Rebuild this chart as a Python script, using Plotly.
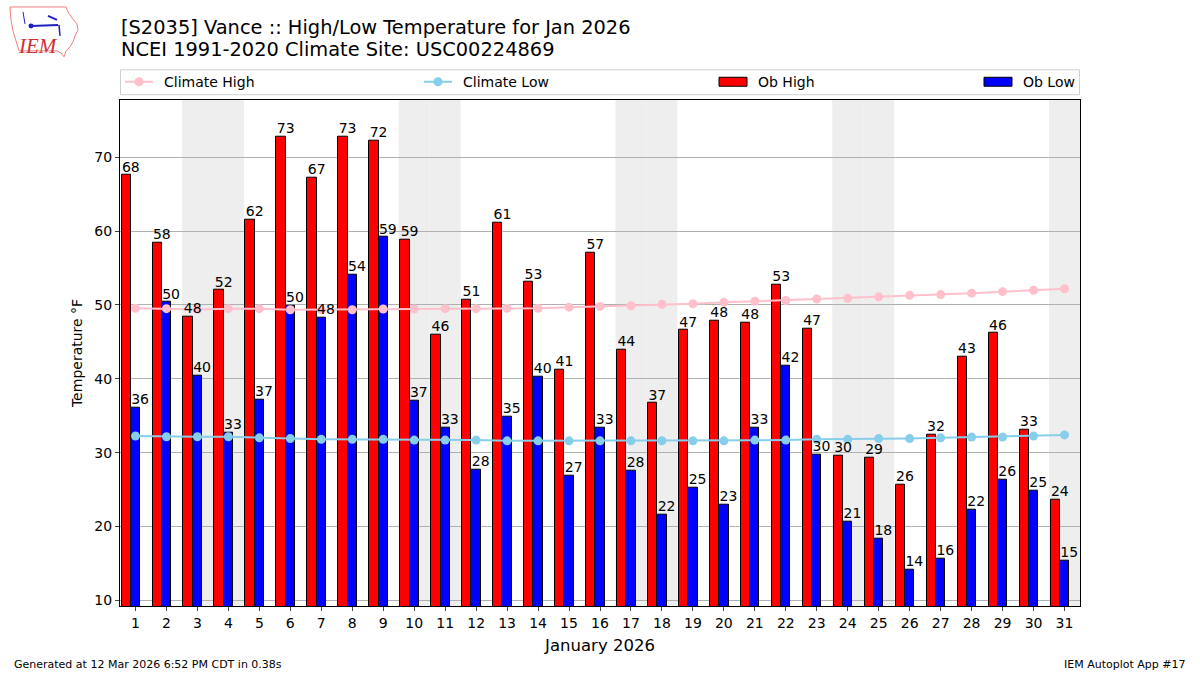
import datetime
import plotly.graph_objects as go

days = list(range(1, 32))
ob_high = [67.6, 58.5, 48.4, 52.0, 61.6, 72.8, 67.3, 72.8, 72.3, 58.8,
           46.0, 50.7, 61.2, 53.1, 41.2, 57.1, 43.9, 36.7, 46.6, 47.9,
           47.6, 52.8, 46.8, 29.6, 29.3, 25.7, 32.4, 43.0, 46.2, 33.1, 23.6]
ob_low = [36.1, 50.4, 40.4, 32.7, 37.2, 49.9, 48.3, 54.1, 59.2, 37.0,
          33.4, 27.7, 34.9, 40.3, 26.9, 33.4, 27.6, 21.6, 25.3, 23.0,
          33.4, 41.8, 29.7, 20.7, 18.4, 14.2, 15.7, 22.3, 26.4, 24.9, 15.4]
clim_high = [49.55, 49.5, 49.4, 49.5, 49.5, 49.35, 49.35, 49.35, 49.45, 49.45,
             49.5, 49.5, 49.55, 49.55, 49.7, 49.8, 49.9, 50.1, 50.15, 50.35,
             50.5, 50.6, 50.8, 50.9, 51.1, 51.3, 51.4, 51.6, 51.8, 52.0, 52.2]
clim_low = [32.25, 32.15, 32.15, 32.15, 32.0, 31.9, 31.8, 31.8, 31.8, 31.7,
            31.7, 31.7, 31.6, 31.6, 31.6, 31.6, 31.6, 31.6, 31.6, 31.6,
            31.7, 31.7, 31.8, 31.8, 31.9, 31.9, 32.0, 32.1, 32.1, 32.25, 32.4]
y_ticks = [10, 20, 30, 40, 50, 60, 70]

title_line1 = "[S2035] Vance :: High/Low Temperature for Jan 2026"
title_line2 = "NCEI 1991-2020 Climate Site: USC00224869"
x_title = "January 2026"
y_title = "Temperature °F"
footer_left = "Generated at 12 Mar 2026 6:52 PM CDT in 0.38s"
footer_right = "IEM Autoplot App #17"
legend_names = ["Climate High", "Climate Low", "Ob High", "Ob Low"]

HIGH_C, LOW_C = "#ff0000", "#0000ff"
CH_C, CL_C = "#ffc0cb", "#87ceeb"

weekend_days = [d for d in days if datetime.date(2026, 1, d).weekday() >= 5]

W, H = 1200, 675
FONT = "DejaVu Sans"
FS = 14


def px(x):
    return x / W


def py(y):
    return 1 - y / H


fig = go.Figure()

fig.add_trace(go.Bar(x=days, y=ob_high, width=0.3, offset=-0.45,
                     marker=dict(color=HIGH_C, line=dict(color="black", width=1)),
                     name=legend_names[2], showlegend=False))
fig.add_trace(go.Bar(x=days, y=ob_low, width=0.3, offset=-0.15,
                     marker=dict(color=LOW_C, line=dict(color="black", width=1)),
                     name=legend_names[3], showlegend=False))
fig.add_trace(go.Scatter(x=days, y=clim_high, mode="lines+markers",
                         line=dict(color=CH_C, width=2),
                         marker=dict(color=CH_C, size=9),
                         name=legend_names[0], showlegend=False))
fig.add_trace(go.Scatter(x=days, y=clim_low, mode="lines+markers",
                         line=dict(color=CL_C, width=2),
                         marker=dict(color=CL_C, size=9),
                         name=legend_names[1], showlegend=False))
fig.add_trace(go.Scatter(x=[d - 0.15 for d in days], y=ob_high, mode="text",
                         text=[f"{round(v):d}" for v in ob_high],
                         textposition="top center",
                         textfont=dict(family=FONT, size=FS, color="black"),
                         showlegend=False, hoverinfo="skip", cliponaxis=False))
fig.add_trace(go.Scatter(x=[d + 0.15 for d in days], y=ob_low, mode="text",
                         text=[f"{round(v):d}" for v in ob_low],
                         textposition="top center",
                         textfont=dict(family=FONT, size=FS, color="black"),
                         showlegend=False, hoverinfo="skip", cliponaxis=False))

shapes = []
for d in weekend_days:
    shapes.append(dict(type="rect", xref="x", yref="y domain", x0=d - 0.5, x1=d + 0.5,
                       y0=0, y1=1, fillcolor="#eeeeee", line=dict(width=0), layer="below"))

# ---- legend (drawn manually to match matplotlib's expanded 4-column legend) ----
shapes.append(dict(type="rect", xref="paper", yref="paper", x0=px(120.5), x1=px(1079.5),
                   y0=py(95), y1=py(70), fillcolor="white",
                   line=dict(color="#d0d0d0", width=1), layer="above"))
annotations = []
leg_y = 82
for name, color, x0 in [(legend_names[0], CH_C, 125), (legend_names[1], CL_C, 424)]:
    shapes.append(dict(type="line", xref="paper", yref="paper", x0=px(x0), x1=px(x0 + 28),
                       y0=py(leg_y), y1=py(leg_y), line=dict(color=color, width=2)))
    shapes.append(dict(type="circle", xref="paper", yref="paper", x0=px(x0 + 9.5), x1=px(x0 + 18.5),
                       y0=py(leg_y + 4.5), y1=py(leg_y - 4.5), fillcolor=color, line=dict(width=0)))
    annotations.append(dict(text=name, x=px(x0 + 37), y=py(leg_y), xref="paper", yref="paper",
                            showarrow=False, xanchor="left", yanchor="middle",
                            font=dict(family=FONT, size=FS, color="black")))
for name, color, x0 in [(legend_names[2], HIGH_C, 719), (legend_names[3], LOW_C, 984)]:
    shapes.append(dict(type="rect", xref="paper", yref="paper", x0=px(x0), x1=px(x0 + 28),
                       y0=py(86.5), y1=py(77.5), fillcolor=color,
                       line=dict(color="black", width=1)))
    annotations.append(dict(text=name, x=px(x0 + 37), y=py(leg_y), xref="paper", yref="paper",
                            showarrow=False, xanchor="left", yanchor="middle",
                            font=dict(family=FONT, size=FS, color="black")))

# ---- logo approximation ----
iowa = [(10, 7), (66, 7), (68, 12), (72, 18), (77, 24), (78, 30), (75, 36), (73, 42),
        (70, 47), (66, 51), (64, 57), (61, 53), (57, 51), (19, 51), (16, 41), (13, 31),
        (11, 20)]
path = "M " + " L ".join(f"{px(x):.5f},{py(y):.5f}" for x, y in iowa) + " Z"
shapes.append(dict(type="path", xref="paper", yref="paper", path=path,
                   line=dict(color="#f08080", width=1)))
shapes.append(dict(type="line", xref="paper", yref="paper", x0=px(31), x1=px(58),
                   y0=py(26), y1=py(25), line=dict(color="#2020c0", width=2)))
shapes.append(dict(type="circle", xref="paper", yref="paper", x0=px(28.5), x1=px(33.5),
                   y0=py(28.5), y1=py(23.5), fillcolor="#2020c0", line=dict(width=0)))
shapes.append(dict(type="line", xref="paper", yref="paper", x0=px(48), x1=px(57),
                   y0=py(16), y1=py(20), line=dict(color="#2020c0", width=2)))
shapes.append(dict(type="line", xref="paper", yref="paper", x0=px(59), x1=px(60),
                   y0=py(25), y1=py(36), line=dict(color="#2020c0", width=1.5)))
shapes.append(dict(type="line", xref="paper", yref="paper", x0=px(23), x1=px(25),
                   y0=py(12), y1=py(24), line=dict(color="#2020c0", width=1)))

annotations += [
    dict(text="<i>IEM</i>", x=px(37.5), y=py(46), xref="paper", yref="paper",
         showarrow=False, xanchor="center", yanchor="middle",
         font=dict(family="Liberation Serif", size=21, color="#d03030")),
    dict(text=title_line1, x=px(119), y=py(28), xref="paper", yref="paper",
         showarrow=False, xanchor="left", yanchor="middle",
         font=dict(family=FONT, size=19.4, color="black")),
    dict(text=title_line2, x=px(119), y=py(50), xref="paper", yref="paper",
         showarrow=False, xanchor="left", yanchor="middle",
         font=dict(family=FONT, size=19.4, color="black")),
    dict(text=footer_left, x=px(12), y=py(666), xref="paper", yref="paper",
         showarrow=False, xanchor="left", yanchor="middle",
         font=dict(family=FONT, size=11, color="black")),
    dict(text=footer_right, x=px(1188), y=py(666), xref="paper", yref="paper",
         showarrow=False, xanchor="right", yanchor="middle",
         font=dict(family=FONT, size=11, color="black")),
]

fig.update_layout(
    width=W, height=H,
    margin=dict(l=0, r=0, t=0, b=0),
    paper_bgcolor="white", plot_bgcolor="white",
    barmode="overlay", bargap=0,
    font=dict(family=FONT, size=FS, color="black"),
    shapes=shapes,
    annotations=annotations,
    showlegend=False,
    xaxis=dict(domain=[px(120), px(1080)], range=[0.5, 31.5], tickmode="array",
               tickvals=days, ticktext=[str(d) for d in days], ticks="outside", ticklen=4,
               showgrid=False, zeroline=False, showline=True, linecolor="black", mirror=True,
               title=dict(text=x_title, font=dict(family=FONT, size=16.5), standoff=9),
               tickfont=dict(family=FONT, size=FS)),
    yaxis=dict(domain=[1 - 608 / H, 1 - 100 / H], range=[9.2, 77.8], tickmode="array",
               tickvals=y_ticks, ticks="outside", ticklen=4,
               showgrid=True, gridcolor="#b0b0b0", gridwidth=1,
               zeroline=False, showline=True, linecolor="black", mirror=True,
               title=dict(text=y_title, font=dict(family=FONT, size=FS), standoff=8),
               tickfont=dict(family=FONT, size=FS)),
)

fig.write_html("out.html", config={"displayModeBar": False},
               post_script="document.body.style.margin='0';")
